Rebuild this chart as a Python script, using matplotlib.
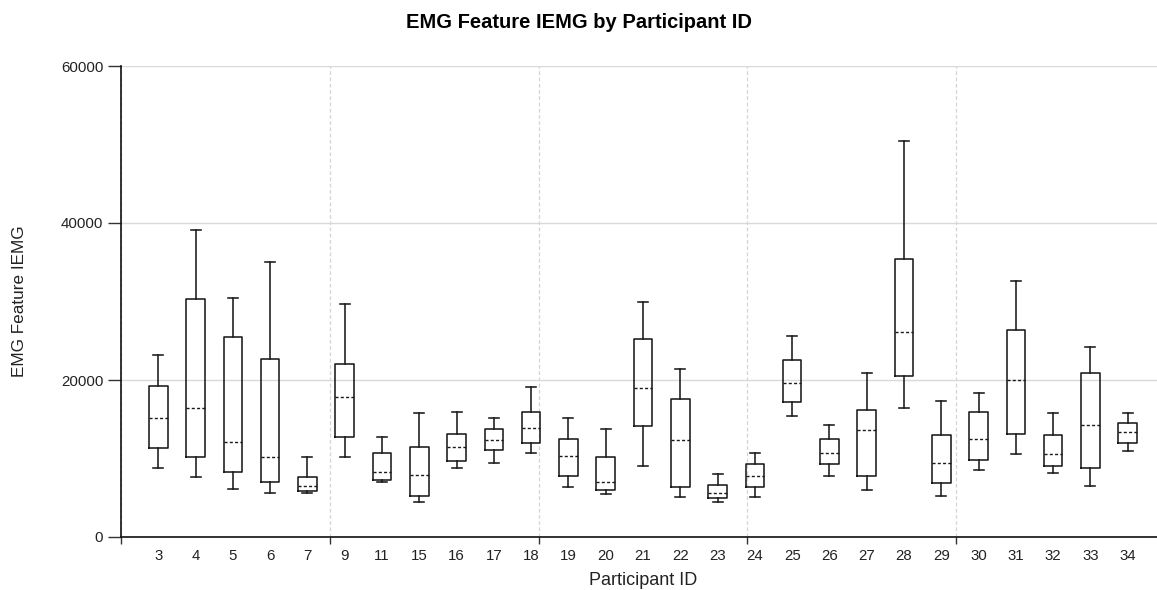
import numpy as np
import matplotlib
matplotlib.use('Agg')
import matplotlib.pyplot as plt
from matplotlib.ticker import MultipleLocator, FixedLocator, NullFormatter

plt.rcParams['font.family'] = ['Liberation Sans', 'DejaVu Sans']

# participants and box statistics
participants = ['3', '4', '5', '6', '7', '9', '11', '15', '16', '17', '18', '19', '20', '21',
                '22', '23', '24', '25', '26', '27', '28', '29', '30', '31', '32', '33', '34']
whisker_low = [8730, 7630, 6060, 5550, 5550, 10250, 6990, 4450, 8730, 9490, 10760, 6360, 5420, 9030,
               5090, 4450, 5090, 15470, 7760, 6020, 16410, 5250, 8560, 10600, 8090, 6520, 10940]
q1 = [11400, 10180, 8220, 6990, 5890, 12800, 7290, 5250, 9620, 11070, 12000, 7800, 6020, 14200,
      6360, 4910, 6360, 17250, 9320, 7760, 20560, 6820, 9830, 13140, 9030, 8730, 12000]
medians = [15170, 16410, 12160, 10250, 6520, 17850, 8270, 7920, 11520, 12380, 13940, 10300, 6990, 18950,
           12380, 5550, 7800, 19630, 10760, 13610, 26080, 9490, 12500, 20050, 10600, 14250, 13430]
q3 = [19280, 30350, 25440, 22720, 7630, 22080, 10760, 11520, 13140, 13780, 15980, 12500, 10180, 25260,
      17550, 6650, 9360, 22590, 12500, 16150, 35360, 12970, 15980, 26370, 12970, 20860, 14540]
whisker_high = [23230, 39130, 30440, 35060, 10130, 29670, 12800, 15850, 15980, 15170, 19120, 15170, 13780, 29970,
                21450, 8050, 10760, 25600, 14250, 20860, 50500, 17380, 18350, 32560, 15810, 24170, 15810]

stats = []
for pid, lo, a, m, b, hi in zip(participants, whisker_low, q1, medians, q3, whisker_high):
    stats.append({'label': pid, 'whislo': lo, 'q1': a, 'med': m, 'q3': b, 'whishi': hi, 'fliers': []})

fig = plt.figure(figsize=(11.57, 5.90), dpi=100)
ax = fig.add_axes([121/1157, 53/590, 1044/1157, 471/590])

line_col = '#1a1a1a'
positions = np.arange(1, len(participants) + 1)
ax.bxp(stats, positions=positions, widths=0.5, capwidths=0.27, showfliers=False,
       boxprops=dict(color=line_col, linewidth=1.15),
       whiskerprops=dict(color=line_col, linewidth=1.15),
       capprops=dict(color=line_col, linewidth=1.15),
       medianprops=dict(color=line_col, linewidth=1.0, linestyle=(0, (2.2, 1.6))),
       manage_ticks=False, zorder=3)

ax.set_xlim(0, 28)
ax.set_ylim(0, 60000)

# major x ticks carry the dashed vertical grid, labels sit on the boxes
ax.xaxis.set_major_locator(MultipleLocator(5.6))
ax.xaxis.set_major_formatter(NullFormatter())
ax.xaxis.set_minor_locator(FixedLocator(positions))
ax.set_xticklabels(participants, minor=True)
ax.tick_params(axis='x', which='major', length=5, width=1, color='#333333', direction='out')
ax.tick_params(axis='x', which='minor', length=0, pad=8.5, labelsize=10.8, labelcolor='#222222')

ax.set_yticks([0, 20000, 40000, 60000])
ax.tick_params(axis='y', length=9.4, width=1, color='#333333', pad=3.4,
               labelsize=10.8, labelcolor='#222222')

ax.grid(axis='y', color='#d9d9d9', linewidth=1.0, linestyle='-', zorder=0)
ax.grid(axis='x', which='major', color='#d4d4d4', linewidth=0.9, linestyle=(0, (3, 2)), zorder=0)
ax.set_axisbelow(True)

for s in ['top', 'right']:
    ax.spines[s].set_visible(False)
for s in ['left', 'bottom']:
    ax.spines[s].set_color('#111111')
    ax.spines[s].set_linewidth(1.2)

fig.text(0.5, 1 - 28.5/590, 'EMG Feature IEMG by Participant ID', ha='center', va='baseline',
         fontsize=14.5, fontweight='bold', color='black')
fig.text(643/1157, 1 - 585/590, 'Participant ID', ha='center', va='baseline',
         fontsize=13, color='#222222')
fig.text(19.5/1157, 1 - 301.5/590, 'EMG Feature IEMG', ha='center', va='center', rotation=90,
         fontsize=12.3, color='#222222')

fig.savefig('out.png', dpi=100)
